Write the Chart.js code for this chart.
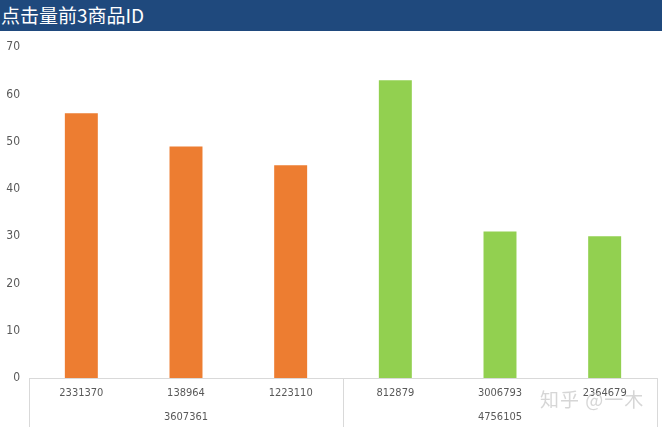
<!DOCTYPE html>
<html>
<head>
<meta charset="utf-8">
<script src="https://cdn.jsdelivr.net/npm/chart.js@4/dist/chart.umd.min.js"></script>
<style>
    body { margin: 0; background: #fff; }
    #wrap { position: relative; width: 662px; height: 427px; overflow: hidden; }
    #title-bar {
        height: 31px; background: #1F497D; color: #fff;
        font-family: "Noto Sans CJK SC", sans-serif; font-size: 19px;
        line-height: 29px; padding-left: 1px; white-space: nowrap;
    }
    #chart-box { position: absolute; left: 0; top: 31px; width: 662px; height: 396px; }
    #mark {
        position: absolute; left: 540px; top: 385px;
        font-family: "Noto Sans CJK SC", sans-serif; font-size: 19px;
        color: rgba(200, 200, 200, 0.75); letter-spacing: 1px;
    }
</style>
</head>
<body>
<div id="wrap">
    <div id="title-bar">点击量前3商品ID</div>
    <div id="chart-box"><canvas id="click-chart"></canvas></div>
    <div id="mark">知乎 @一木</div>
</div>
<script>
const titleText = '点击量前3商品ID';
const productIds = ['2331370', '138964', '1223110', '812879', '3006793', '2364679'];
const groupIds = ['3607361', '4756105'];
const productGroup = [0, 0, 0, 1, 1, 1];
const clicks = [56, 49, 45, 63, 31, 30];
const yTicks = [0, 10, 20, 30, 40, 50, 60, 70];
const groupColors = ['#ED7D31', '#92D050'];

const labelFont = { family: '"Liberation Sans Narrow", "DejaVu Sans Condensed", "Noto Sans", sans-serif', size: 11 };
const lineColor = '#D9D9D9';

// vertical separators under the axis: left edge, group boundaries, right edge
const groupLines = {
    id: 'groupLines',
    afterDraw(chart) {
        const x = chart.scales.x;
        const ctx = chart.ctx;
        const bounds = [0];
        for (let i = 1; i < productGroup.length; i++) {
            if (productGroup[i] !== productGroup[i - 1]) bounds.push(i);
        }
        bounds.push(productGroup.length);
        const step = x.getPixelForValue(1) - x.getPixelForValue(0);
        ctx.save();
        ctx.strokeStyle = lineColor;
        ctx.lineWidth = 1;
        bounds.forEach(b => {
            const px = Math.round(x.getPixelForValue(b) - step / 2) + 0.5;
            ctx.beginPath();
            ctx.moveTo(px, x.top);
            ctx.lineTo(px, chart.height);
            ctx.stroke();
        });
        ctx.restore();
    }
};

new Chart(document.getElementById('click-chart'), {
    type: 'bar',
    data: {
        labels: productIds,
        datasets: [{
            label: titleText,
            data: clicks,
            backgroundColor: productGroup.map(g => groupColors[g]),
            barPercentage: 0.315,
            categoryPercentage: 1
        }]
    },
    options: {
        responsive: true,
        maintainAspectRatio: false,
        animation: false,
        layout: { padding: { top: 13, right: 5, left: 0, bottom: 0 } },
        plugins: {
            legend: { display: false },
            tooltip: { enabled: false }
        },
        scales: {
            y: {
                min: 0,
                max: 70,
                afterBuildTicks: scale => { scale.ticks = yTicks.map(v => ({ value: v })); },
                afterFit: scale => { scale.width = 29; },
                grid: { display: false, drawTicks: false },
                border: { display: false },
                ticks: { color: '#595959', font: { ...labelFont, size: 12 }, padding: 9 }
            },
            x: {
                afterFit: scale => { scale.height = 25; },
                grid: { display: false, drawTicks: false },
                border: { display: true, color: lineColor },
                ticks: { color: '#595959', font: labelFont, padding: 9, maxRotation: 0, autoSkip: false }
            },
            x2: {
                type: 'category',
                position: 'bottom',
                labels: groupIds,
                afterFit: scale => { scale.height = 24; },
                grid: { display: false, drawTicks: false },
                border: { display: false },
                ticks: { color: '#595959', font: labelFont, padding: 8, maxRotation: 0 }
            }
        }
    },
    plugins: [groupLines]
});
</script>
</body>
</html>
